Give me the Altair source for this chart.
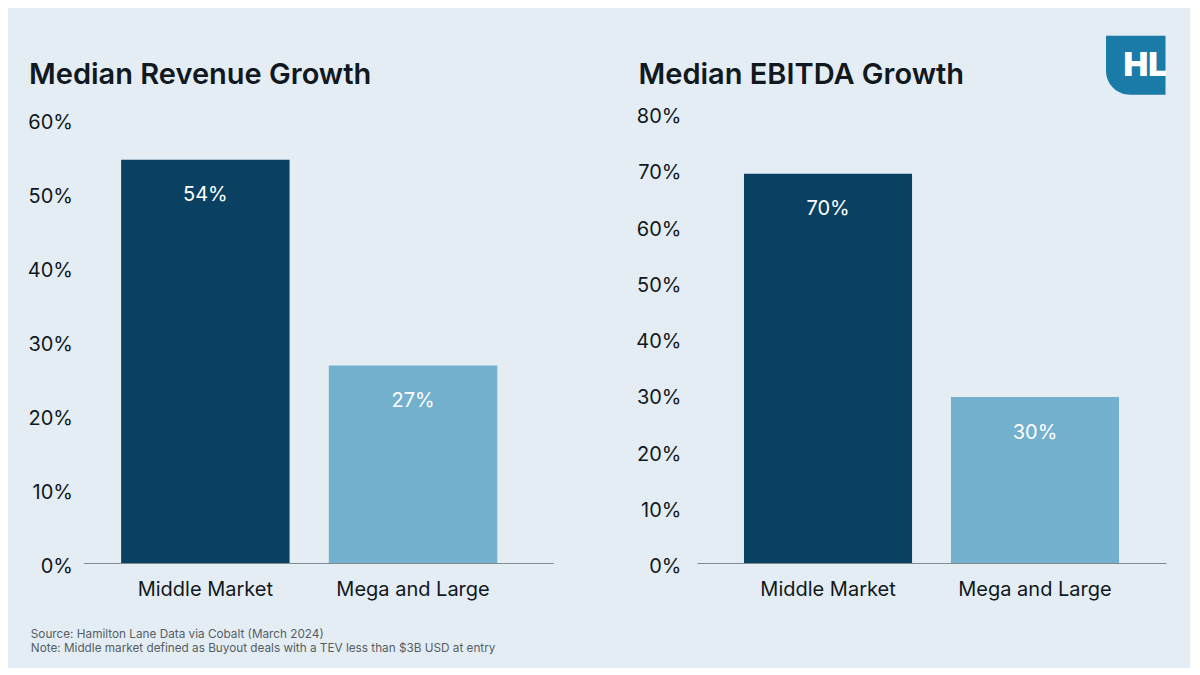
import altair as alt
import pandas as pd

categories = ["Middle Market", "Mega and Large"]
revenue_values = [54.5, 26.7]
revenue_labels = ["54%", "27%"]
ebitda_values = [69.2, 29.5]
ebitda_labels = ["70%", "30%"]
revenue_ticks = [0, 10, 20, 30, 40, 50, 60]
ebitda_ticks = [0, 10, 20, 30, 40, 50, 60, 70, 80]
bar_colors = ["#0a4162", "#72b0cd"]
title_left = "Median Revenue Growth"
title_right = "Median EBITDA Growth"
footnotes = [
    "Source: Hamilton Lane Data via Cobalt (March 2024)",
    "Note: Middle market defined as Buyout deals with a TEV less than $3B USD at entry",
]
logo_text = ["HL"]

FONT = "Inter"
BG = "#e4edf3"
INK = "#111820"
dummy = pd.DataFrame({"t": logo_text})


def panel(values, labels, ticks, ymax, title, title_x, pad_inner, pad_outer, align,
          label_pad, width, extra=None):
    df = pd.DataFrame({"category": categories, "value": values, "label": labels})
    base = alt.Chart(df)
    x = alt.X(
        "category:N",
        sort=categories,
        scale=alt.Scale(paddingInner=pad_inner, paddingOuter=pad_outer, align=align),
        axis=alt.Axis(
            title=None, labelAngle=0, ticks=False, domain=True,
            domainColor="#7f8a91", domainWidth=1.2, grid=False,
            labelFontSize=20, labelColor=INK, labelFont=FONT, labelPadding=16,
        ),
    )
    y = alt.Y(
        "value:Q",
        scale=alt.Scale(domain=[0, ymax], nice=False, zero=True),
        axis=alt.Axis(
            title=None, values=ticks, labelExpr="datum.value + '%'", grid=False,
            domain=False, ticks=False, labelPadding=label_pad, labelOffset=3.5,
            labelFontSize=20, labelColor=INK, labelFont=FONT,
        ),
    )
    bars = base.mark_bar().encode(
        x=x, y=y,
        color=alt.Color("category:N", scale=alt.Scale(domain=categories, range=bar_colors), legend=None),
    )
    text = base.mark_text(dy=35.5, color="white", fontSize=20, font=FONT, baseline="middle").encode(
        x=alt.X("category:N", sort=categories), y="value:Q", text="label:N"
    )
    ttl = alt.Chart(dummy).mark_text(
        text=title, align="left", baseline="alphabetic", fontSize=29, fontWeight=600,
        font=FONT, color=INK,
    ).encode(x=alt.value(title_x), y=alt.value(-28.8))
    layers = [bars, text, ttl] + (extra or [])
    return alt.layer(*layers).properties(width=width, height=450)


logo_rect = alt.Chart(dummy).mark_rect(color="#1a7aa8", cornerRadiusBottomLeft=24).encode(
    x=alt.value(409), x2=alt.value(468.5), y=alt.value(-77.3), y2=alt.value(-18.3)
)
logo_label = alt.Chart(dummy).mark_text(
    align="right", baseline="alphabetic", fontSize=33, fontWeight=900, color="white", font=FONT
).encode(x=alt.value(470), y=alt.value(-37), text="t:N")

foot = alt.Chart(dummy).mark_text(
    text=footnotes, align="left", baseline="alphabetic", fontSize=11.75, lineHeight=14.4,
    font=FONT, color="#555e65",
).encode(x=alt.value(-52.7), y=alt.value(525))

left = panel(revenue_values, revenue_labels, revenue_ticks, 450 / 7.4, title_left, -54.5,
             0.189, 0.2248, 0.403, 11, 469.5, extra=[foot])
right = panel(ebitda_values, ebitda_labels, ebitda_ticks, 80, title_right, -58.5,
              0.188, 0.227, 0.5, 16, 469, extra=[logo_rect, logo_label])

chart = alt.hconcat(left, right, spacing=81.5).properties(
    background=BG,
    padding={"left": 18.5, "top": 27, "right": 22, "bottom": 12},
).configure_view(stroke=None)

chart.save("out.html", embed_options={"renderer": "svg", "actions": False})
